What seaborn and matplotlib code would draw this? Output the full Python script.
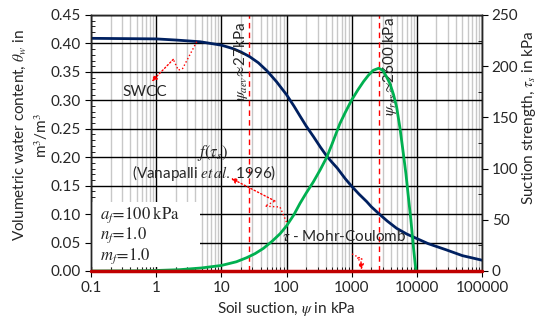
import numpy as np
import pandas as pd
import matplotlib
matplotlib.use('Agg')
import matplotlib.pyplot as plt
from matplotlib.patches import Rectangle
from matplotlib.ticker import FixedLocator, FixedFormatter, MultipleLocator, LogLocator, NullFormatter, FormatStrFormatter
import seaborn as sns

# SWCC: volumetric water content vs suction
swcc_psi = [0.1, 1, 2, 4.7, 10, 15, 20, 27, 37, 50, 70, 100, 130, 160, 200, 260, 330, 414, 500, 600, 800,
            1000, 1300, 1700, 2000, 2600, 3500, 4900, 7000, 10000, 15000, 28600, 50000, 100000]
swcc_theta = [0.409, 0.408, 0.406, 0.403, 0.397, 0.391, 0.385, 0.377, 0.366, 0.352, 0.333, 0.310, 0.290,
              0.273, 0.255, 0.236, 0.218, 0.202, 0.191, 0.181, 0.162, 0.149, 0.135, 0.122, 0.113, 0.101,
              0.088, 0.075, 0.065, 0.057, 0.048, 0.037, 0.027, 0.019]

# suction strength f(tau_s), Vanapalli et al. 1996
tau_psi = [0.1, 0.5, 1, 2.3, 5, 10, 17, 24.5, 33, 44, 60, 80, 100, 130, 161, 200, 258, 330, 414, 500, 660,
           800, 1000, 1250, 1520, 1800, 2150, 2600, 3000, 3400, 3870, 4400, 4900, 5500, 6200, 6800, 7400,
           8100, 8840, 9700]
tau_val = [0.0, 0.2, 0.5, 1.3, 3, 5.4, 9, 13, 17, 22, 29, 36.5, 44, 55, 66, 76, 87, 99, 111, 124, 144,
           155, 167, 177, 185, 191, 196, 198, 196, 190, 183, 172, 160, 140, 115, 95, 73, 50, 24, 0]

# Mohr-Coulomb line
mc_psi = [0.1, 100000]
mc_tau = [0, 0]

psi_aev = 27
psi_res = 2600

xticks = [0.1, 1, 10, 100, 1000, 10000, 100000]
xtick_labels = ['0.1', '1', '10', '100', '1000', '10000', '100000']

sns.set_style('ticks')
plt.rcParams['font.family'] = ['Lato', 'DejaVu Sans']
plt.rcParams['mathtext.fontset'] = 'stix'
plt.rcParams['axes.linewidth'] = 1.0

fig = plt.figure(figsize=(5.37, 3.24), dpi=100)
ax = fig.add_axes([91 / 537, 53 / 324, 391 / 537, 256 / 324])
ax2 = ax.twinx()

navy = '#002060'
green = '#00B050'

ax.set_xscale('log')
ax.set_xlim(0.1, 100000)
ax.set_ylim(0, 0.45)
ax2.set_ylim(0, 250)

ax.xaxis.set_major_locator(FixedLocator(xticks))
ax.xaxis.set_major_formatter(FixedFormatter(xtick_labels))
ax.xaxis.set_minor_locator(LogLocator(base=10, subs=np.arange(2, 10), numticks=20))
ax.xaxis.set_minor_formatter(NullFormatter())
ax.yaxis.set_major_locator(MultipleLocator(0.05))
ax.yaxis.set_minor_locator(MultipleLocator(0.01))
ax.yaxis.set_major_formatter(FormatStrFormatter('%.2f'))
ax2.yaxis.set_major_locator(MultipleLocator(50))
ax2.yaxis.set_minor_locator(MultipleLocator(25))

ax.grid(which='major', color='black', lw=1.0)
ax.grid(which='minor', axis='x', color='#c8c8c8', lw=1.0)
ax.set_axisbelow(True)

ax.tick_params(which='major', direction='out', length=4, labelsize=11, color='black')
ax.tick_params(which='minor', direction='in', length=3, color='black')
ax2.tick_params(which='major', direction='out', length=4, labelsize=11, color='black', pad=3)
ax2.tick_params(which='minor', direction='in', length=3, color='black')

# white panel behind the parameter text
ax.add_patch(Rectangle((0, 0.016), 0.279, 0.254, transform=ax.transAxes, facecolor='white',
                       edgecolor='none', zorder=1))

sns.lineplot(x=swcc_psi, y=swcc_theta, ax=ax, color=navy, lw=2, sort=False, estimator=None, zorder=3)
sns.lineplot(x=tau_psi, y=tau_val, ax=ax2, color=green, lw=2, sort=False, estimator=None)
sns.lineplot(x=mc_psi, y=mc_tau, ax=ax2, color='#C00000', lw=2.5, sort=False, estimator=None,
             clip_on=False, zorder=5)

for v in [psi_aev, psi_res]:
    ax.axvline(v, color='red', ls=(0, (4, 3)), lw=1, zorder=2)

ax.annotate(r'$\psi_{aev}\!\approx\!$27kPa', xy=(psi_aev, 0.45), xytext=(-6, -5), textcoords='offset points',
            rotation=90, ha='center', va='top', fontsize=11)
ax.annotate(r'$\psi_{res}\!\approx\!$2600 kPa', xy=(psi_res, 0.45), xytext=(8, -2), textcoords='offset points',
            rotation=90, ha='center', va='top', fontsize=11)

ax.text(0.675, 0.315, 'SWCC', ha='center', va='center', fontsize=11)
ax.text(7.45, 0.207, r'$f(\tau_s)$', ha='center', va='center', fontsize=12)
ax.text(5.52, 0.172, r'(Vanapalli $\mathit{et\,al.}$ 1996)', ha='center', va='center', fontsize=11)
ax.text(762, 0.0615, r'$\tau$ - Mohr-Coulomb', ha='center', va='center', fontsize=11)

ax.text(0.023, 0.262, '$a_f\\!=\\!100\\;\\mathrm{kPa}$\n$n_f\\!=\\!1.0$\n$m_f\\!=\\!1.0$', transform=ax.transAxes,
        ha='left', va='top', fontsize=12, linespacing=1.1, zorder=2)

# dotted red leader arrows
leaders = [
    ([4.19, 2.55, 2.19, 1.83], [0.403, 0.356, 0.353, 0.372], (0.853, 0.333)),
    ([100, 79.4, 46.8, 66.6], [0.086, 0.1125, 0.114, 0.123], (14.1, 0.163)),
    ([1012, 1439, 1207, 1390], [0.030, 0.021, 0.023, 0.016], (1416, 0.002)),
]
for xs, ys, end in leaders:
    ax.plot(xs, ys, color='red', ls=':', lw=1, zorder=6)
    ax.annotate('', xy=end, xytext=(xs[-1], ys[-1]),
                arrowprops=dict(arrowstyle='-|>', color='red', ls=':', lw=1, mutation_scale=8,
                                shrinkA=0, shrinkB=0), zorder=6)

ax.set_xlabel(r'Soil suction, $\psi$ in kPa', fontsize=11, labelpad=3)
ax.set_ylabel('Volumetric water content, $\\theta_w$ in\nm$^3$/m$^3$', fontsize=11, linespacing=1.3)
ax.yaxis.set_label_coords(-0.105, 0.53)
ax2.set_ylabel(r'Suction strength, $\tau_s$ in kPa', fontsize=11)
ax2.yaxis.set_label_coords(1.097, 0.6)

for sp in ax.spines.values():
    sp.set_color('black')

fig.savefig('out.png', dpi=100)
